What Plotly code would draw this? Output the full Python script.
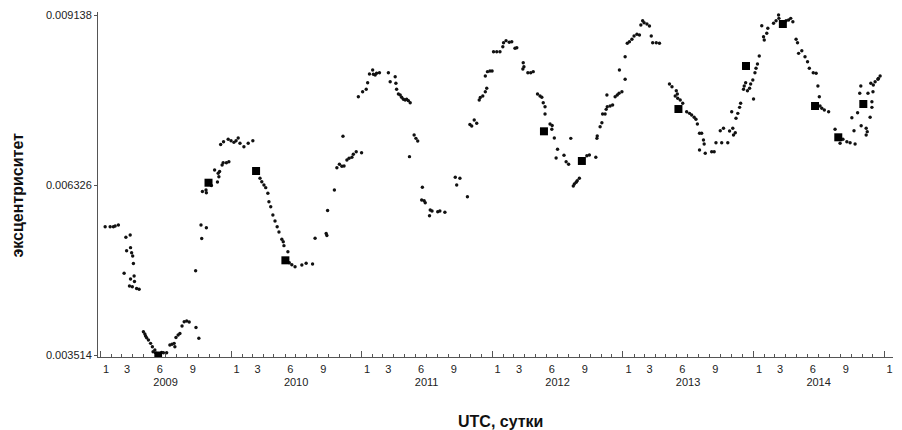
import pandas as pd
import plotly.graph_objects as go

# Orbital eccentricity samples, days counted from 2009-01-01 UTC
EPOCH = pd.Timestamp("2009-01-01")

day_2009 = [13, 27, 36, 41, 50, 71, 83, 73, 84, 87, 90, 92, 66, 84, 94, 95, 81, 89, 101, 108,
            120, 124, 126, 129, 134, 140, 145, 152, 147, 156, 171, 176, 185, 194, 200, 206, 208,
            211, 217, 222, 228, 234, 241, 248, 267, 275,
            266, 281, 296, 283, 285, 296, 295, 310, 319, 327, 329, 331, 333, 340, 343, 352, 359,
            336, 344, 357]
ecc_2009 = [0.005641, 0.005641, 0.005641, 0.005653, 0.005669, 0.005466, 0.005504, 0.005245,
            0.005295, 0.005212, 0.005157, 0.005034, 0.004872, 0.004778, 0.004827, 0.004736,
            0.004662, 0.004650, 0.004621, 0.004607,
            0.003907, 0.003869, 0.003836, 0.003808, 0.003770, 0.003715, 0.003659, 0.003605,
            0.003577, 0.003550, 0.003564, 0.003560, 0.003560, 0.003687, 0.003699, 0.003715,
            0.003659, 0.003811, 0.003853, 0.003877, 0.004001, 0.004072, 0.004084, 0.004067,
            0.003976, 0.003798,
            0.004915, 0.005669, 0.005625, 0.005446, 0.006223, 0.006203, 0.006248, 0.006322,
            0.006578, 0.006380, 0.006523, 0.006467, 0.006553, 0.006660, 0.006698, 0.006698,
            0.006715, 0.006999, 0.007045, 0.007085]

day_2010 = [365, 373, 379, 385, 390, 401, 413, 426,
            446, 451, 457, 462, 468, 471, 476, 482, 488, 494, 499, 507, 511, 513, 524, 528,
            535, 544, 563, 575, 593,
            600, 631, 633, 635, 654, 661, 668, 675, 681, 689, 695, 703, 707, 715, 678, 721]
ecc_2010 = [0.007062, 0.007035, 0.007062, 0.007106, 0.007019, 0.006963, 0.007019, 0.007062,
            0.006441, 0.006385, 0.006330, 0.006286, 0.006193, 0.006054, 0.005972, 0.005835,
            0.005736, 0.005641, 0.005554, 0.005433, 0.005394, 0.005328, 0.005228, 0.005047,
            0.005014, 0.004981, 0.005009, 0.005037, 0.005025,
            0.005450, 0.005529, 0.005496, 0.005909, 0.006248, 0.006616, 0.006672, 0.006639,
            0.006644, 0.006743, 0.006771, 0.006788, 0.006837, 0.006880, 0.007135, 0.007789]

day_2011 = [730, 733, 743, 747, 752, 761, 763, 768, 772, 780, 805, 810, 824, 826, 828, 833,
            838, 842, 847, 852, 856, 861, 866,
            877, 882, 887, 864, 900, 898, 905, 908, 922, 927, 920, 943, 949, 963,
            992, 1005, 996, 1026, 1033, 1038, 1045, 1052, 1059, 1062, 1069, 1076, 1080, 1076,
            1082, 1089]
ecc_2011 = [0.006864, 0.007871, 0.007911, 0.008020, 0.008163, 0.008230, 0.008159, 0.008147,
            0.008175, 0.008185, 0.008185, 0.008036, 0.008119, 0.008010, 0.007911, 0.007833,
            0.007817, 0.007779, 0.007746, 0.007734, 0.007746, 0.007723, 0.007689,
            0.007156, 0.007101, 0.007057, 0.006798, 0.006292, 0.006082, 0.006071, 0.006038,
            0.005917, 0.005901, 0.005823, 0.005889, 0.005901, 0.005879,
            0.006457, 0.006441, 0.006330, 0.006137, 0.007329, 0.007305, 0.007404, 0.007349,
            0.007734, 0.007775, 0.007800, 0.007871, 0.007927, 0.008130, 0.008202, 0.008213]

day_2012 = [1095, 1099, 1108, 1117, 1125, 1127, 1134, 1143, 1150, 1159, 1164,
            1182, 1184, 1181, 1195, 1203, 1210, 1222, 1229, 1234, 1238, 1243, 1243, 1257, 1263,
            1262, 1269, 1278, 1274, 1296, 1302, 1309, 1315,
            1339, 1333, 1330, 1325, 1322, 1360, 1367, 1385, 1388, 1389, 1397, 1402, 1404, 1411,
            1414, 1417, 1425, 1432, 1416, 1439, 1445, 1450, 1458, 1451]
ecc_2012 = [0.008213, 0.008532, 0.008532, 0.008532, 0.008614, 0.008680, 0.008714, 0.008687,
            0.008697, 0.008588, 0.008598,
            0.008350, 0.008284, 0.008246, 0.008185, 0.008185, 0.008202, 0.007833, 0.007800,
            0.007779, 0.007689, 0.007623, 0.007503, 0.007338, 0.007313, 0.007250, 0.007106,
            0.006920, 0.006776, 0.006821, 0.006715, 0.006672, 0.007101,
            0.006441, 0.006401, 0.006375, 0.006347, 0.006314, 0.006814, 0.006826, 0.006788,
            0.007101, 0.007139, 0.007293, 0.007359, 0.007503, 0.007503, 0.007580, 0.007623,
            0.007635, 0.007651, 0.007817, 0.007789, 0.007817, 0.007845, 0.007871, 0.008230]

day_2013 = [1467, 1467, 1473, 1479, 1486, 1492, 1500, 1507, 1511, 1516, 1520, 1528, 1535, 1540,
            1544, 1554, 1563,
            1591, 1598, 1610, 1613, 1607, 1614, 1621, 1628, 1639, 1647, 1653, 1660, 1665, 1669,
            1675, 1681, 1686, 1688, 1675, 1691, 1709, 1716, 1721, 1737, 1754,
            1733, 1742, 1759, 1768, 1770, 1775, 1765, 1777, 1782, 1787, 1790, 1798, 1800, 1804,
            1809, 1815, 1818, 1824]
ecc_2013 = [0.008076, 0.008449, 0.008671, 0.008697, 0.008737, 0.008791, 0.008819, 0.008808,
            0.008973, 0.009044, 0.009011, 0.008989, 0.008956, 0.008791, 0.008680, 0.008680,
            0.008671,
            0.007998, 0.007954, 0.007888, 0.007833, 0.007800, 0.007762, 0.007734, 0.007680,
            0.007541, 0.007514, 0.007486, 0.007448, 0.007415, 0.007338, 0.007184, 0.007184,
            0.007073, 0.007007, 0.006908, 0.006854, 0.006880, 0.006880, 0.007029, 0.007029,
            0.007029,
            0.007227, 0.007267, 0.007222, 0.007267, 0.007156, 0.007194, 0.007541, 0.007432,
            0.007514, 0.007613, 0.007680, 0.007911, 0.007965, 0.008020, 0.007888, 0.007927,
            0.007998, 0.008064]

day_2014 = [1826, 1830, 1833, 1837, 1842, 1849, 1854, 1856, 1863, 1866, 1882, 1889, 1896, 1897,
            1917, 1924, 1930, 1936,
            1945, 1949, 1952, 1961, 1970, 1977, 1982, 1993, 2001, 2006, 2010, 2012, 2017, 2024,
            2036,
            2054, 2068, 2076, 2087, 2096, 2110, 2101, 2107, 2117, 2127, 2141, 2144, 2141, 2152,
            2157, 2157, 2123, 2146, 2160, 2126, 2154, 2166, 2174, 2180, 2129, 2175, 2161]
ecc_2014 = [0.007751, 0.008185, 0.008258, 0.008329, 0.008461, 0.008961, 0.008780, 0.008725,
            0.008836, 0.008918, 0.009001, 0.009044, 0.009138, 0.009083, 0.009044, 0.009055,
            0.009083, 0.009027,
            0.008737, 0.008680, 0.008505, 0.008548, 0.008449, 0.008367, 0.008258, 0.008185,
            0.008175, 0.007965, 0.007789, 0.007635, 0.007597, 0.007569, 0.007541,
            0.007250, 0.007019, 0.007085, 0.007045, 0.007029, 0.007007, 0.007442, 0.007227,
            0.007524, 0.007310, 0.007267, 0.007211, 0.007156, 0.007448, 0.007706, 0.007613,
            0.007845, 0.007845, 0.007871, 0.007965, 0.008010, 0.008036, 0.008076, 0.008130,
            0.007706, 0.008092, 0.007982]

# Reference epochs drawn as large squares
sq_day = [161, 302, 435, 517, 1240, 1346, 1616, 1805, 1908, 1998, 2063, 2133]
sq_ecc = [0.003514, 0.006368, 0.006561, 0.005086, 0.007217, 0.006727, 0.007585, 0.008296,
          0.008989, 0.007635, 0.007118, 0.007668]

y_ticks = [0.003514, 0.006326, 0.009138]
y_ticktext = ["0.003514", "0.006326", "0.009138"]
years = [2009, 2010, 2011, 2012, 2013, 2014]
labelled_months = [1, 3, 6, 9]

FONT = "Liberation Sans, Arial, sans-serif"
AXIS_COLOR = "#555555"


def to_dates(days):
    return EPOCH + pd.to_timedelta(days, unit="D")


def month_mid(y, m):
    start = pd.Timestamp(year=y, month=m, day=1)
    end = start + pd.DateOffset(months=1)
    return start + (end - start) / 2


all_days = day_2009 + day_2010 + day_2011 + day_2012 + day_2013 + day_2014
all_ecc = ecc_2009 + ecc_2010 + ecc_2011 + ecc_2012 + ecc_2013 + ecc_2014

# Month labels at the middle of each labelled month
m_vals, m_text = [], []
for y in years:
    for m in labelled_months:
        m_vals.append(month_mid(y, m))
        m_text.append(str(m))
m_vals.append(month_mid(years[-1] + 1, 1))
m_text.append("1")

month_starts = pd.date_range(f"{years[0]}-01-01", f"{years[-1] + 1}-01-01", freq="MS")
year_starts = [pd.Timestamp(year=y, month=1, day=1) for y in years + [years[-1] + 1]]
year_mids = [pd.Timestamp(year=y, month=7, day=2) for y in years]

x_range = ["2008-12-25", "2015-01-26"]

fig = go.Figure()
fig.add_trace(go.Scatter(
    x=to_dates(all_days), y=all_ecc, mode="markers",
    marker=dict(symbol="circle", size=3.4, color="#111111", line=dict(width=0)),
    showlegend=False, hoverinfo="x+y",
))
fig.add_trace(go.Scatter(
    x=to_dates(sq_day), y=sq_ecc, mode="markers",
    marker=dict(symbol="square", size=8, color="#000000", line=dict(width=0)),
    showlegend=False, hoverinfo="x+y",
))
# Empty traces so the overlay axes (year ticks / year labels) are built
fig.add_trace(go.Scatter(x=[], y=[], xaxis="x2", showlegend=False, hoverinfo="skip"))
fig.add_trace(go.Scatter(x=[], y=[], xaxis="x3", showlegend=False, hoverinfo="skip"))

fig.update_layout(
    width=902, height=430,
    margin=dict(l=98, r=9, t=12, b=73),
    paper_bgcolor="white", plot_bgcolor="white",
    font=dict(family=FONT, size=11, color="#222222"),
    xaxis=dict(
        type="date", range=x_range,
        showline=True, linecolor=AXIS_COLOR, linewidth=1,
        showgrid=False, zeroline=False,
        tickmode="array", tickvals=m_vals, ticktext=m_text, ticks="",
        tickfont=dict(family=FONT, size=11, color="#222222"),
        ticklabelstandoff=2,
        minor=dict(tickmode="array", tickvals=list(month_starts), ticks="inside",
                   ticklen=3, tickwidth=1, tickcolor=AXIS_COLOR, showgrid=False),
    ),
    xaxis2=dict(
        type="date", range=x_range, overlaying="x", anchor="y", side="bottom",
        showline=False, showgrid=False, zeroline=False,
        tickmode="array", tickvals=year_starts, ticks="inside", ticklen=6,
        tickwidth=1, tickcolor=AXIS_COLOR, showticklabels=False,
    ),
    xaxis3=dict(
        type="date", range=x_range, overlaying="x", anchor="y", side="bottom",
        showline=False, showgrid=False, zeroline=False,
        tickmode="array", tickvals=year_mids, ticktext=[str(y) for y in years], ticks="",
        tickfont=dict(family=FONT, size=11, color="#222222"),
        ticklabelstandoff=17,
    ),
    yaxis=dict(
        range=[0.0034892, 0.0091876],
        showline=True, linecolor=AXIS_COLOR, linewidth=1,
        showgrid=False, zeroline=False,
        tickmode="array", tickvals=y_ticks, ticktext=y_ticktext,
        ticks="outside", ticklen=3, tickwidth=1, tickcolor=AXIS_COLOR,
        tickfont=dict(family=FONT, size=11, color="#222222"),
    ),
    annotations=[
        dict(text="<b>эксцентриситет</b>", xref="paper", yref="paper",
             x=-0.101, y=0.47, xanchor="center", yanchor="middle",
             textangle=-90, showarrow=False,
             font=dict(family=FONT, size=16, color="#111111")),
        dict(text="<b>UTC, сутки</b>", xref="paper", yref="paper",
             x=0.5057, y=-0.188, xanchor="center", yanchor="middle",
             showarrow=False, font=dict(family=FONT, size=16, color="#111111")),
    ],
)

fig.write_html("out.html")
